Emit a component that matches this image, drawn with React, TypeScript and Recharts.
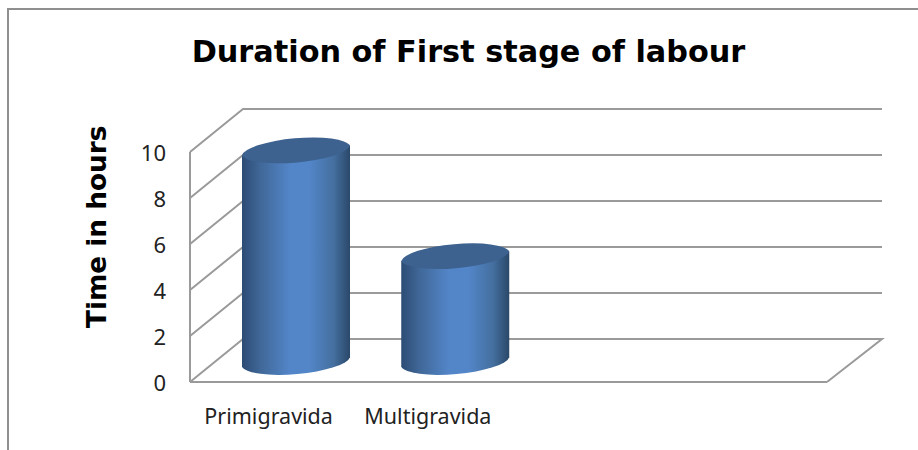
import React from "react";
import { BarChart, Bar, XAxis, YAxis, CartesianGrid } from "recharts";

const categories = ["Primigravida", "Multigravida", " ", "  "];
const hours: (number | null)[] = [9.2, 4.6, null, null];
const yTicks = [0, 2, 4, 6, 8, 10];
const title = "Duration of First stage of labour";
const yTitle = "Time in hours";

const rows = categories.map((name, i) => ({ name, hours: hours[i] }));

const GRID = "#9a9a9a";
const WALL_DX = 53;
const WALL_DY = 43;
const BAR_DX = 26;
const BAR_DY = 20;
const FONT = "'Noto Sans', sans-serif";
const BOLD = "'DejaVu Sans', sans-serif";

const GridLine = (p: any) => {
  const { x1, y1, x2, y2 } = p;
  const isFloor = Math.abs(y1 - (p.y + p.height)) < 1;
  const d = `M${x1},${y1} L${x1 + WALL_DX},${y1 - WALL_DY} L${x2 + WALL_DX + 2},${y2 - WALL_DY}` +
    (isFloor ? ` L${x2},${y2}` : "");
  return <path key={p.key} d={d} fill="none" stroke={GRID} strokeWidth={2} />;
};

const Cylinder = (p: any) => {
  const { x, y, width, height } = p;
  if (height == null || height <= 0) return null;
  const rx = width / 2 + 0.5;
  const ry = 13.5;
  const tilt = 4.8;
  const l = x + BAR_DX;
  const r = x + width + BAR_DX;
  const top = y - BAR_DY;
  const bot = y + height - BAR_DY;
  const arc = `A${rx},${ry} -5 0 0`;
  return (
    <g>
      <path
        d={`M${l},${top + tilt} L${l},${bot + tilt} ${arc} ${r},${bot - tilt} L${r},${top - tilt} Z`}
        fill="url(#cylBody)"
      />
      <path
        d={`M${l},${top + tilt} ${arc} ${r},${top - tilt} ${arc} ${l},${top + tilt} Z`}
        fill="#3d628f"
      />
    </g>
  );
};

export default function App() {
  return (
    <div style={{ position: "fixed", left: 0, top: 0, width: 918, height: 450, overflow: "hidden", background: "#fff" }}>
      <div style={{ position: "absolute", left: 7, top: 8, right: 0, height: 2, background: "#8f8f8f" }} />
      <div style={{ position: "absolute", left: 7, top: 8, bottom: 0, width: 2, background: "#8f8f8f" }} />
      <div style={{ position: "absolute", left: 0, top: 0 }}>
        <BarChart
          width={918}
          height={450}
          data={rows}
          margin={{ top: 152, right: 91, bottom: 8, left: 130 }}
          barCategoryGap={0}
        >
          <defs>
            <linearGradient id="cylBody" x1="0" y1="0" x2="1" y2="0">
              <stop offset="0%" stopColor="#2c4c74" />
              <stop offset="18%" stopColor="#41699a" />
              <stop offset="45%" stopColor="#5386c9" />
              <stop offset="62%" stopColor="#5386c9" />
              <stop offset="85%" stopColor="#446f9f" />
              <stop offset="100%" stopColor="#2a4869" />
            </linearGradient>
          </defs>
          <text x={468.5} y={62} textAnchor="middle" fontFamily={BOLD} fontWeight={700} fontSize={30.3} fill="#000">
            {title}
          </text>
          <CartesianGrid vertical={false} horizontal={GridLine as any} />
          <XAxis
            dataKey="name"
            interval={0}
            tickLine={false}
            axisLine={{ stroke: GRID, strokeWidth: 2 }}
            tick={{ fontSize: 21.5, fill: "#222", fontFamily: FONT, dx: -1 }}
            tickMargin={21}
            height={60}
          />
          <YAxis
            domain={[0, 10]}
            ticks={yTicks}
            width={60}
            tickLine={false}
            axisLine={{ stroke: GRID, strokeWidth: 2 }}
            tick={{ fontSize: 22, fill: "#222", fontFamily: FONT, dy: 1 }}
            tickMargin={18}
            label={{
              value: yTitle,
              angle: -90,
              position: "insideLeft",
              dx: -38,
              dy: 61,
              style: { fontSize: 26.3, fontWeight: 700, fontFamily: BOLD, fill: "#000" },
            }}
          />
          <Bar dataKey="hours" barSize={108} isAnimationActive={false} shape={Cylinder as any} />
        </BarChart>
      </div>
    </div>
  );
}
